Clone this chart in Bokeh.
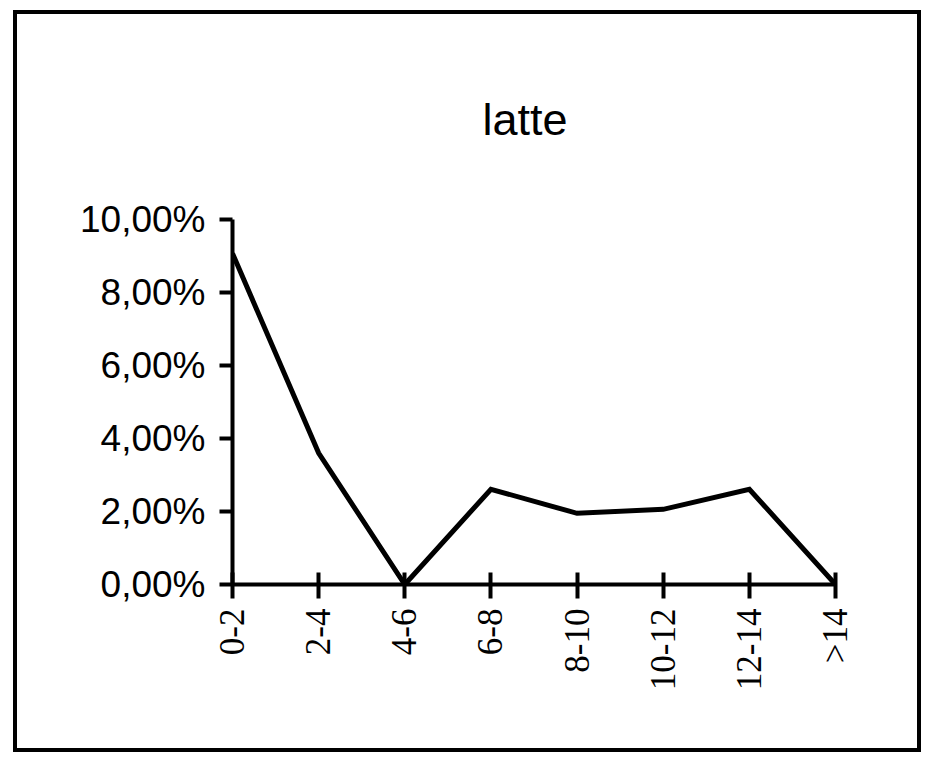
from bokeh.plotting import figure
from bokeh.models import Range1d, FixedTicker, Title
from bokeh.embed import file_html
from bokeh.resources import INLINE
from math import pi

# ---- data ----
categories = ["0-2", "2-4", "4-6", "6-8", "8-10", "10-12", "12-14", ">14"]
values = [9.07, 3.60, 0.0, 2.61, 1.95, 2.06, 2.61, 0.0]
y_ticks = [0, 2, 4, 6, 8, 10]
y_tick_labels = ["0,00%", "2,00%", "4,00%", "6,00%", "8,00%", "10,00%"]
title_text = "latte"

# canvas placed inside a 4px border starting at page (13, 10)
OX, OY = 17, 14
W, H = 900, 734
xs = list(range(len(categories)))

p = figure(width=W, height=H, output_backend="svg", toolbar_location=None,
           x_range=Range1d(0, len(categories) - 1), y_range=Range1d(0, 10),
           min_border_left=232 - OX, min_border_right=OX + W - 835 + 8,
           min_border_top=219 - OY, min_border_bottom=OY + H - 583 + 7)

p.background_fill_color = "white"
p.border_fill_color = "white"
p.outline_line_color = None
p.xgrid.visible = False
p.ygrid.visible = False
p.styles = {"border": "4px solid black", "margin-left": "13px",
            "margin-top": "10px", "box-sizing": "content-box"}

p.line(xs, values, line_color="black", line_width=5, line_join="miter")

# x axis
xa = p.xaxis[0]
xa.ticker = FixedTicker(ticks=xs)
xa.major_label_overrides = {i: c for i, c in enumerate(categories)}
xa.major_label_orientation = pi / 2
xa.major_label_text_font = "Liberation Serif"
xa.major_label_text_font_size = "35px"
xa.major_label_text_color = "black"
xa.major_label_standoff = 10
xa.axis_line_width = 4
xa.axis_line_color = "black"
xa.major_tick_line_width = 4
xa.major_tick_line_color = "black"
xa.major_tick_in = 12
xa.major_tick_out = 14
xa.minor_tick_line_color = None

# y axis
ya = p.yaxis[0]
ya.ticker = FixedTicker(ticks=y_ticks)
ya.major_label_overrides = {t: l for t, l in zip(y_ticks, y_tick_labels)}
ya.major_label_text_font = "Liberation Sans"
ya.major_label_text_font_size = "37px"
ya.major_label_text_color = "black"
ya.major_label_standoff = 14
ya.axis_line_width = 4
ya.axis_line_color = "black"
ya.major_tick_line_width = 4
ya.major_tick_line_color = "black"
ya.major_tick_in = 0
ya.major_tick_out = 13
ya.minor_tick_line_color = None

# title
t = Title(text=title_text, align="left", offset=250, standoff=150,
          text_font="Liberation Sans", text_font_size="45px",
          text_font_style="normal", text_color="black")
p.add_layout(t, "above")

open("out.html", "w").write(file_html(p, INLINE))
